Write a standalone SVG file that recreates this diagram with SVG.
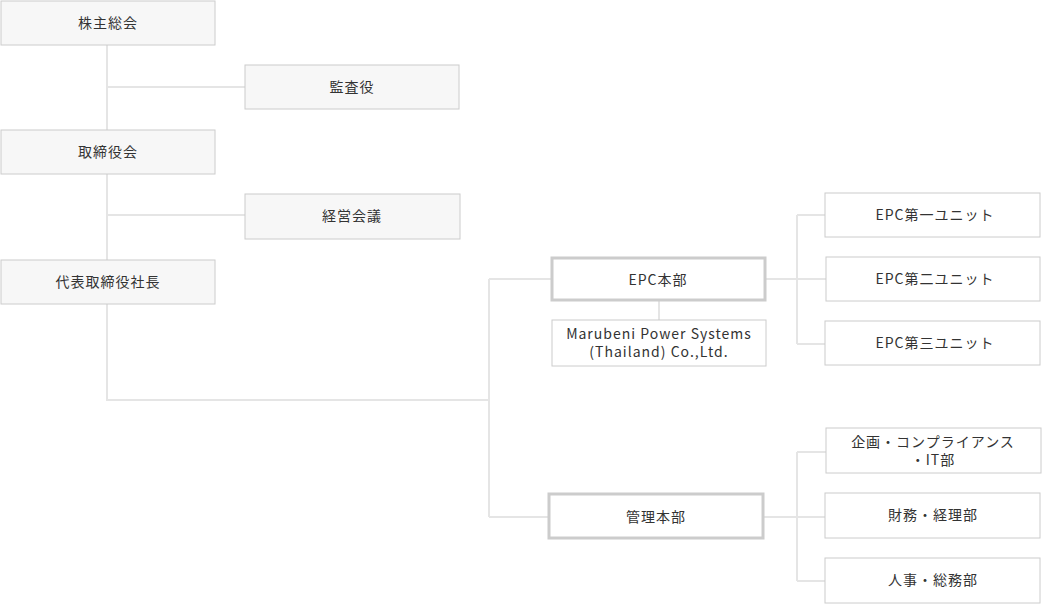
<svg xmlns="http://www.w3.org/2000/svg" width="1042" height="604" viewBox="0 0 1042 604">
<style>
.g{fill:#f7f7f7;stroke:#ccc;stroke-width:1}
.w{fill:#fff;stroke:#ccc;stroke-width:1}
.t{fill:#fff;stroke:#ccc;stroke-width:3}
text{font-family:"Noto Sans CJK JP","Noto Sans",sans-serif;font-size:14px;fill:#333;text-anchor:middle;letter-spacing:1px}
.c path{fill:none;stroke:#e5e5e5;stroke-width:2}
</style>
<g class="c">
<path d="M107 45V400H489M107 87H245M107 215H245M489 279V517M489 279H552M489 517H549M659 300V320M765 279H797M797 215V344M797 215H825M797 279H826M797 344H825M763 517H797M797 452V581M797 452H826M797 517H825M797 581H825"/>
</g>
<g id="n1"><rect class="g" x="1" y="1" width="214" height="44"/><text x="108" y="28">株主総会</text></g>
<g id="n2"><rect class="g" x="245" y="65" width="214" height="44"/><text x="352" y="92">監査役</text></g>
<g id="n3"><rect class="g" x="1" y="130" width="214" height="44"/><text x="108" y="157">取締役会</text></g>
<g id="n4"><rect class="g" x="245" y="194" width="215" height="45"/><text x="352" y="221">経営会議</text></g>
<g id="n5"><rect class="g" x="1" y="260" width="214" height="44"/><text x="108" y="287">代表取締役社長</text></g>
<g id="n6"><rect class="t" x="552" y="258" width="213" height="42"/><text x="658" y="285">EPC本部</text></g>
<g id="n7"><rect class="w" x="552" y="320" width="214" height="46"/><text x="659" y="339">Marubeni Power Systems</text><text x="659" y="357">(Thailand) Co.,Ltd.</text></g>
<g id="n8"><rect class="t" x="549" y="494" width="214" height="44"/><text x="656" y="522">管理本部</text></g>
<g id="n9"><rect class="w" x="825" y="193" width="215" height="44"/><text x="935" y="220">EPC第一ユニット</text></g>
<g id="n10"><rect class="w" x="826" y="257" width="214" height="44"/><text x="935" y="284">EPC第二ユニット</text></g>
<g id="n11"><rect class="w" x="825" y="321" width="215" height="44"/><text x="935" y="348">EPC第三ユニット</text></g>
<g id="n12"><rect class="w" x="826" y="428" width="215" height="45"/><text x="933" y="447">企画・コンプライアンス</text><text x="933" y="465">・IT部</text></g>
<g id="n13"><rect class="w" x="825" y="493" width="215" height="45"/><text x="933" y="520">財務・経理部</text></g>
<g id="n14"><rect class="w" x="825" y="558" width="215" height="45"/><text x="933" y="585">人事・総務部</text></g>
</svg>
